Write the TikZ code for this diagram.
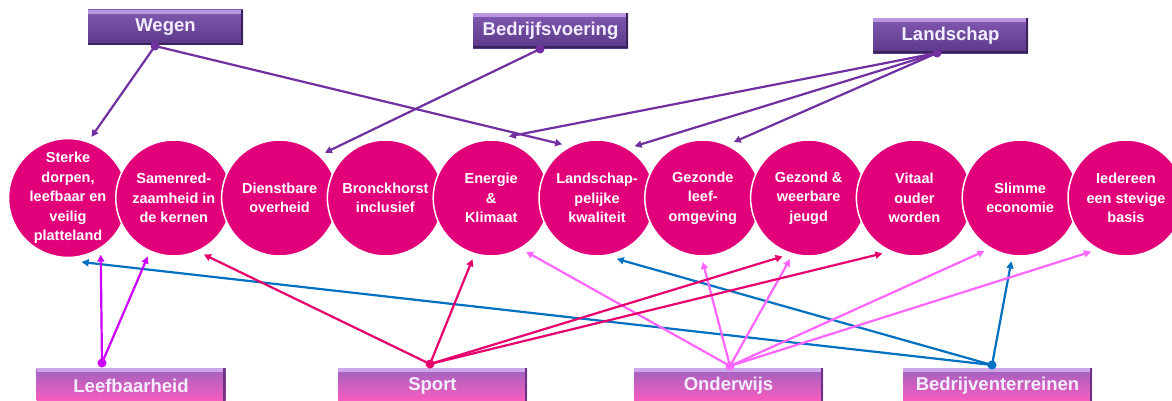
\documentclass[tikz,border=0pt]{standalone}
\usepackage{fontspec}
\setmainfont{Liberation Sans}
\usetikzlibrary{arrows.meta,calc}
\definecolor{circ}{RGB}{226,0,122}
\definecolor{tbtop}{RGB}{130,90,178}
\definecolor{tbbot}{RGB}{90,56,136}
\definecolor{tbhi}{RGB}{184,150,224}
\definecolor{tbdark}{RGB}{58,34,92}
\definecolor{bbtop}{RGB}{158,98,192}
\definecolor{bbbot}{RGB}{255,92,190}
\definecolor{bbhi}{RGB}{204,166,232}
\definecolor{bbdark}{RGB}{110,50,130}
\definecolor{boxtext}{RGB}{242,238,255}
\definecolor{lpurple}{RGB}{112,48,160}
\definecolor{lviolet}{RGB}{204,0,255}
\definecolor{lsport}{RGB}{230,0,110}
\definecolor{lpink}{RGB}{255,102,255}
\definecolor{lblue}{RGB}{0,112,192}
\begin{document}
\begin{tikzpicture}[x=1pt,y=-1pt,
  topic/.style={circle,fill=circ,draw=white,line width=1.5pt,minimum size=116pt,
    inner sep=0pt,outer sep=6pt,text=white,align=center,
    font=\bfseries\fontsize{14.5}{19.5}\selectfont},
  boxbase/.style={rectangle,minimum height=35pt,inner sep=0pt,draw=none,
    text=boxtext,font=\bfseries\fontsize{18.5}{20}\selectfont},
  topbox/.style={boxbase,minimum width=155pt,top color=tbtop,bottom color=tbbot,
    path picture={
      \fill[tbhi] (path picture bounding box.north west) rectangle ([yshift=-4pt]path picture bounding box.north east);
      \fill[tbdark] ([xshift=-2.5pt]path picture bounding box.north east) rectangle (path picture bounding box.south east);
      \fill[tbdark] (path picture bounding box.south west) rectangle ([yshift=2pt]path picture bounding box.south east);}},
  botbox/.style={boxbase,minimum width=189pt,top color=bbtop,bottom color=bbbot,
    path picture={
      \fill[bbhi] (path picture bounding box.north west) rectangle ([yshift=-4pt]path picture bounding box.north east);
      \fill[bbdark] ([xshift=-2.5pt]path picture bounding box.north east) rectangle (path picture bounding box.south east);}},
  dot/.style={circle,inner sep=0pt,minimum size=9pt},
  link/.style={line width=2.2pt,-{Triangle[length=7pt,width=7pt]}},
]
\useasboundingbox (0,0) rectangle (1172,400);
\clip (0,0) rectangle (1172,400);
\fill[white] (0,0) rectangle (1172,400);

% topic circles
\node[topic] (c1)  at (68,198)     {Sterke\\dorpen,\\leefbaar en\\veilig\\platteland};
\node[topic] (c2)  at (173.8,198)  {Samenred-\\zaamheid in\\de kernen};
\node[topic] (c3)  at (279.6,198)  {Dienstbare\\overheid};
\node[topic] (c4)  at (385.4,198)  {Bronckhorst\\inclusief};
\node[topic] (c5)  at (491.2,198)  {Energie\\\&\\Klimaat};
\node[topic] (c6)  at (597,198)    {Landschap-\\pelijke\\kwaliteit};
\node[topic] (c7)  at (702.8,198)  {Gezonde\\leef-\\omgeving};
\node[topic] (c8)  at (808.6,198)  {Gezond \&\\weerbare\\jeugd};
\node[topic] (c9)  at (914.4,198)  {Vitaal\\ouder\\worden};
\node[topic] (c10) at (1020.2,198) {Slimme\\economie};
\node[topic] (c11) at (1126,198)   {Iedereen\\een stevige\\basis};

% top boxes
\node[topbox] (wegen) at (165.5,27)   {Wegen};
\node[topbox] (bedr)  at (550.5,30.5) {Bedrijfsvoering};
\node[topbox] (land)  at (950.5,35.5) {Landschap};
% bottom boxes
\node[botbox] (leef) at (131,385.5)   {Leefbaarheid};
\node[botbox] (sport) at (432.5,385.5) {Sport};
\node[botbox] (ond)  at (728.5,385.5) {Onderwijs};
\node[botbox] (bter) at (997.5,385.5) {Bedrijventerreinen};

% connection dots
\node[dot,fill=lpurple] (wd) at (155,46) {};
\node[dot,fill=lpurple] (bd) at (540,49) {};
\node[dot,fill=lpurple] (ld) at (937,53) {};
\node[dot,fill=lviolet] (lfd) at (102,363) {};
\node[dot,fill=lsport] (sd) at (430,364) {};
\node[dot,fill=lpink] (od) at (730,366) {};
\node[dot,fill=lblue] (btd) at (992,365) {};

% top connectors
\draw[link,lpurple] (wd.center) -- (c1.69);
\draw[link,lpurple] (wd.center) -- (c6.123.5);
\draw[link,lpurple] (bd.center) -- (c3.45);
\draw[link,lpurple] (ld.center) -- (c5.74.8);
\draw[link,lpurple] (ld.center) -- (c6.54);
\draw[link,lpurple] (ld.center) -- (c7.61);

% bottom connectors
\draw[link,lblue] (btd.center) -- (c1.-78);
\draw[link,lblue] (btd.center) -- (c6.-72);
\draw[link,lblue] (btd.center) -- (c10.-98.3);

\draw[link,lviolet] (lfd.center) -- (c1.-60.4);
\draw[link,lviolet] (lfd.center) -- (c2.-114);

\draw[link,lpink] (od.center) -- (c5.-57);
\draw[link,lpink] (od.center) -- (c7.-90.8);
\draw[link,lpink] (od.center) -- (c8.-107);
\draw[link,lpink] (od.center) -- (c10.-124.6);
\draw[link,lpink] (od.center) -- (c11.-123.5);

\draw[link,lsport] (sd.center) -- (c2.-62.5);
\draw[link,lsport] (sd.center) -- (c5.-107.6);
\draw[link,lsport] (sd.center) -- (c8.-114.6);
\draw[link,lsport] (sd.center) -- (c9.-120.4);
\end{tikzpicture}
\end{document}
